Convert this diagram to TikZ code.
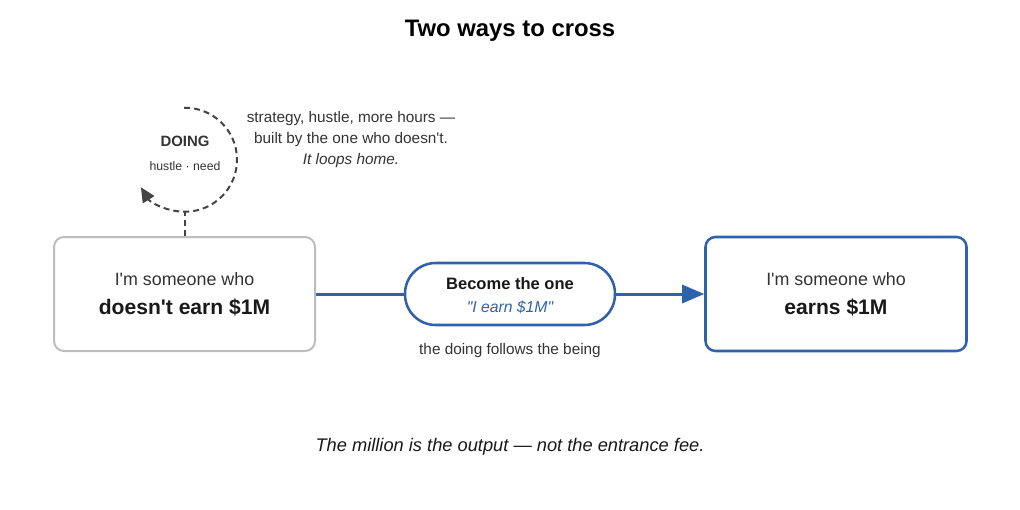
\documentclass[tikz,border=0pt]{standalone}
\usepackage{fontspec}
\setmainfont{Liberation Sans}[Ligatures=TeXOff]
\usetikzlibrary{arrows.meta,positioning}
\definecolor{inkblue}{HTML}{2F62AC}
\definecolor{boxgray}{HTML}{BDBDBD}
\definecolor{textgray}{HTML}{333333}
\definecolor{loopgray}{HTML}{444444}

\begin{document}
\begin{tikzpicture}[x=0.75pt, y=0.75pt,
  every node/.style={text=textgray},
  statebox/.style={rounded corners=7.5pt, minimum width=195.75pt, minimum height=85.5pt, align=center, fill=white,
    font=\fontsize{13.4}{21.75}\selectfont},
  pill/.style={draw=inkblue, line width=1.9pt, rounded corners=23pt, minimum width=157.5pt, minimum height=46.5pt, align=center, fill=white,
    font=\fontsize{12.4}{17.25}\selectfont},
  link/.style={draw=inkblue, line width=2.25pt},
  loopline/.style={draw=loopgray, line width=1.5pt, dash pattern=on 4.5pt off 3pt}]
  \useasboundingbox (0,0) rectangle (1020,-510);

  % Title
  \node[font=\bfseries\fontsize{17.9}{21}\selectfont, text=black] (title) at (510,-31) {Two ways to cross};

  % Draw the two identity boxes
  \node[statebox, draw=boxgray, line width=1.5pt] (doesnt) at (184.5,-294)
    {I'm someone who\\
     {\fontsize{15.8}{21.75}\selectfont\bfseries\color{black!90}doesn't earn \$1M}};
  \node[statebox, draw=inkblue, line width=1.9pt] (earns) at (836,-294)
    {I'm someone who\\
     {\fontsize{15.8}{21.75}\selectfont\bfseries\color{black!90}earns \$1M}};

  % Draw the step in between
  \node[pill] (become) at (510,-294) {};
  \node[align=center, font=\fontsize{12.4}{17.25}\selectfont] (becometext) at ([yshift=-1.5pt]become.center)
    {{\bfseries\color{black!90}Become the one}\\
     {\fontsize{11.8}{17.25}\selectfont\itshape\color{inkblue}"I earn \$1M"}};
  \node[font=\fontsize{11.5}{14}\selectfont] (follows) at (510,-350.5) {the doing follows the being};

  % Draw connectors
  \draw[link] (doesnt) -- (become);
  \draw[link, -{Triangle[length=16.5pt, width=13.5pt]}] (become) -- (earns);

  % Draw the doing loop
  \node[circle, minimum size=78pt, inner sep=0pt] (loop) at (185,-160) {};
  \draw[loopline, -{Triangle[length=11pt, width=10pt]}] (loop.91) arc[start angle=91, end angle=-148, radius=39pt];
  \draw[loopline] (doesnt.north) -- (doesnt.north |- loop.south);
  \node[font=\bfseries\fontsize{11.2}{13}\selectfont] (doing) at (185,-141) {DOING};
  \node[font=\fontsize{9.2}{11}\selectfont] (need) at (185,-166) {hustle · need};
  \node[align=center, font=\fontsize{11.5}{15.75}\selectfont] (strategy) at (351,-140)
    {strategy, hustle, more hours —\\ built by the one who doesn't.\\ \itshape It loops home.};

  % Bottom line
  \node[font=\itshape\fontsize{13.7}{16}\selectfont, text=black!90] (fee) at (510,-446.5)
    {The million is the output — not the entrance fee.};
\end{tikzpicture}
\end{document}
